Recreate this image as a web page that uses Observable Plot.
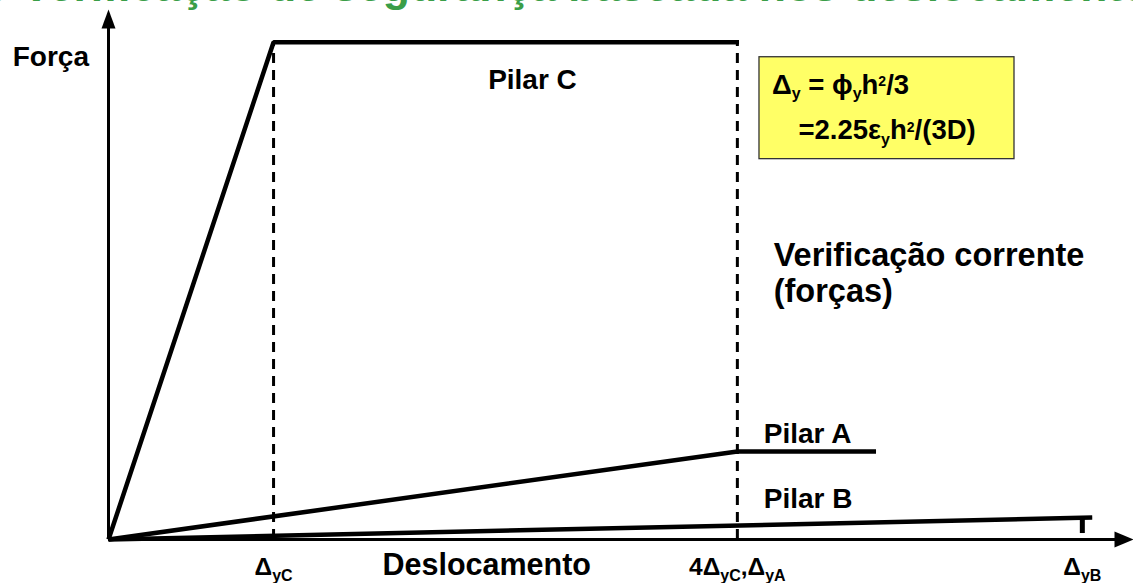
<!DOCTYPE html>
<html>
<head>
<meta charset="utf-8">
<script src="https://cdn.jsdelivr.net/npm/d3@7"></script>
<script src="https://cdn.jsdelivr.net/npm/@observablehq/plot@0.6"></script>
<style>
  html, body { margin: 0; padding: 0; background: #fff; overflow: hidden; }
  #wrap { position: relative; width: 1133px; height: 583px; overflow: hidden; font-family: "Liberation Sans", Arial, sans-serif; }
  #title { position: absolute; left: -18px; top: -36px; font-size: 44.5px; line-height: 44px; font-weight: bold; color: #3a9e48; white-space: nowrap; z-index: 2; }
  #chart { position: absolute; left: 0; top: 0; }
</style>
</head>
<body>
<div id="wrap">
  <div id="title"></div>
  <div id="chart"></div>
</div>
<script>
// ---- data ----
const title = "o Verificação de segurança baseada nos deslocamentos";
const xAxisTitle = "Deslocamento";
const yAxisTitle = "Força";

// displacement in units of Δ_yC, force in units of Pilar C strength
const pilarCDisp = [0, 1.0, 3.82];
const pilarCForce = [0, 1.0, 1.0];
const pilarADisp = [0, 3.81, 4.65];
const pilarAForce = [0, 0.177, 0.177];
const pilarBDisp = [0, 5.96];
const pilarBForce = [0, 0.044];

const yieldDisp = [1.0, 3.81, 5.9];           // Δ_yC, Δ_yA (=4Δ_yC), Δ_yB
const tickLabels = ["Δ_{yC}", "4Δ_{yC},Δ_{yA}", "Δ_{yB}"];

const curveLabels = ["Pilar C", "Pilar A", "Pilar B"];
const curveLabelX = [2.30, 3.97, 3.97];
const curveLabelY = [0.907, 0.195, 0.064];

const noteText = "Verificação corrente\n(forças)";
const noteX = 4.03, noteY = 0.477;

const formulaLines = ["Δ_{y} = ϕ_{y}h^{2}/3", "=2.25ε_{y}h^{2}/(3D)"];
const formulaX = [4.02, 4.18];
const formulaY = [0.897, 0.805];
const formulaBox = {x1: 3.944, x2: 5.489, y1: 0.765, y2: 0.970};

const xMax = 6.21, yMax = 1.066;

// ---- arrowhead symbols ----
const arrowUp = {draw(ctx) { ctx.moveTo(0, 0); ctx.lineTo(-7, 19); ctx.lineTo(7, 19); ctx.closePath(); }};
const arrowRight = {draw(ctx) { ctx.moveTo(0, 0); ctx.lineTo(-19, -8); ctx.lineTo(-19, 8); ctx.closePath(); }};

const pts = (xs, ys) => xs.map((x, i) => ({x, y: ys[i]}));
const lineStyle = {x: "x", y: "y", stroke: "#000", strokeWidth: 4.5, strokeLinejoin: "miter", strokeLinecap: "butt"};
const bold = {fontWeight: "bold", fill: "#000", lineAnchor: "bottom"};

document.getElementById("title").textContent = title;

const plot = Plot.plot({
  width: 1133,
  height: 583,
  marginLeft: 108,
  marginRight: 0,
  marginTop: 9,
  marginBottom: 44,
  style: {fontFamily: "'Liberation Sans', Arial, sans-serif", background: "transparent", overflow: "visible"},
  x: {domain: [0, xMax], axis: null},
  y: {domain: [0, yMax], axis: null},
  marks: [
    // formula box
    Plot.rect([formulaBox], {x1: "x1", x2: "x2", y1: "y1", y2: "y2", fill: "#ffff66", stroke: "#333", strokeWidth: 1.3}),
    // dashed yield markers
    Plot.ruleX(yieldDisp.slice(0, 2), {y1: 0, y2: 1.0, stroke: "#000", strokeWidth: 3, strokeDasharray: "10,7"}),
    // axes
    Plot.ruleY([0], {x1: 0, x2: xMax - 0.05, stroke: "#000", strokeWidth: 3}),
    Plot.ruleX([0], {y1: 0, y2: yMax - 0.02, stroke: "#000", strokeWidth: 3}),
    Plot.dot([{x: xMax, y: 0}], {x: "x", y: "y", symbol: arrowRight, fill: "#000", stroke: null}),
    Plot.dot([{x: 0, y: yMax}], {x: "x", y: "y", symbol: arrowUp, fill: "#000", stroke: null}),
    // curves
    Plot.line(pts(pilarCDisp, pilarCForce), lineStyle),
    Plot.line(pts(pilarADisp, pilarAForce), lineStyle),
    Plot.line(pts(pilarBDisp, pilarBForce), lineStyle),
    // Δ_yB marker
    Plot.ruleX([yieldDisp[2]], {y1: 0.012, y2: 0.043, stroke: "#000", strokeWidth: 5}),
    // tick labels
    Plot.text(tickLabels, {x: yieldDisp, y: () => -0.072, text: d => d, textAnchor: "middle", fontSize: 24.5, ...bold}),
    // axis titles
    Plot.text([xAxisTitle], {x: () => 1.66, y: () => -0.0704, text: d => d, textAnchor: "start", fontSize: 30.5, ...bold}),
    Plot.text([yAxisTitle], {x: () => -0.58, y: () => 0.952, text: d => d, textAnchor: "start", fontSize: 28, ...bold}),
    // curve labels
    Plot.text(curveLabels, {x: curveLabelX, y: curveLabelY, text: d => d, textAnchor: "start", fontSize: 28, ...bold}),
    // note
    Plot.text([noteText], {x: () => noteX, y: () => noteY, text: d => d, textAnchor: "start", fontSize: 32.5, lineHeight: 1.12, ...bold}),
    // formula
    Plot.text(formulaLines, {x: formulaX, y: formulaY, text: d => d, textAnchor: "start", fontSize: 27.5, ...bold})
  ]
});

// rich text: _{...} subscript, ^{...} superscript
d3.select(plot).selectAll("text").each(function() {
  const t = this.textContent;
  if (!/[_^]\{/.test(t)) return;
  const fs = parseFloat(getComputedStyle(this).fontSize) || 20;
  const sel = d3.select(this);
  sel.text(null);
  const re = /([_^])\{([^}]*)\}|([^_^]+)/g;
  let m, cur = 0;
  while ((m = re.exec(t))) {
    let target, str, size = null;
    if (m[3] !== undefined) { target = 0; str = m[3]; }
    else if (m[1] === "_") { target = fs * 0.28; str = m[2]; size = fs * 0.8; }
    else { target = -fs * 0.38; str = m[2]; size = fs * 0.7; }
    const ts = sel.append("tspan").attr("dy", (target - cur) + "px").text(str);
    if (size) ts.attr("font-size", size + "px");
    cur = target;
  }
});

document.getElementById("chart").appendChild(plot);
</script>
</body>
</html>
